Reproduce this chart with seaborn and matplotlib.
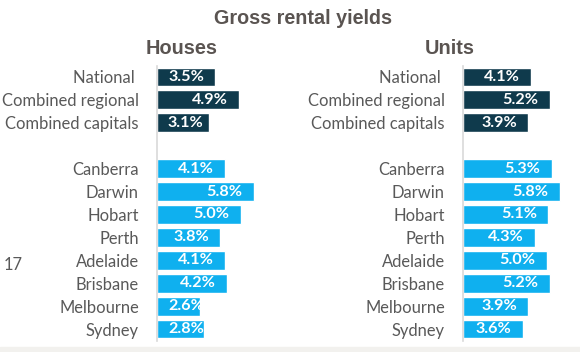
import pandas as pd
import numpy as np
import matplotlib
matplotlib.use("Agg")
import matplotlib.pyplot as plt
import seaborn as sns

# -----------------------------
# Data
# -----------------------------
regions = ["National ", "Combined regional", "Combined capitals", " ",
           "Canberra", "Darwin", "Hobart", "Perth", "Adelaide",
           "Brisbane", "Melbourne", "Sydney"]
groups = ["summary", "summary", "summary", None,
          "city", "city", "city", "city", "city", "city", "city", "city"]
houses = [3.5, 4.9, 3.1, np.nan, 4.1, 5.8, 5.0, 3.8, 4.1, 4.2, 2.6, 2.8]
units = [4.1, 5.2, 3.9, np.nan, 5.3, 5.8, 5.1, 4.3, 5.0, 5.2, 3.9, 3.6]

palette = {"summary": "#0f3a4c", "city": "#0fb0ef"}
text_grey = "#595959"
title_grey = "#5a5451"

sns.set_style("white")
plt.rcParams["font.family"] = ["Lato", "DejaVu Sans"]

W, H = 580, 352
fig = plt.figure(figsize=(W / 100, H / 100), dpi=100)

px_per_pct = 16.7
ax_w = 112


def panel(left_px, values, title, title_x):
    df = pd.DataFrame({"region": regions, "group": groups, "value": values})
    df = df.dropna()
    ax = fig.add_axes([left_px / W, 1 - 340.5 / H, ax_w / W, 275 / H])
    sns.barplot(data=df, x="value", y="region", hue="group", order=regions,
                palette=palette, dodge=False, legend=False, width=0.82,
                saturation=1, orient="h", ax=ax)
    ax.set_xlim(0, ax_w / px_per_pct)
    ax.set_ylim(11.5, -0.5)
    ax.set_xlabel("")
    ax.set_ylabel("")
    ax.set_xticks([])
    for s in ["top", "right", "bottom"]:
        ax.spines[s].set_visible(False)
    ax.spines["left"].set_color("#d9d9d9")
    ax.spines["left"].set_linewidth(1.2)
    ax.tick_params(axis="y", length=0, pad=13, labelsize=11.9,
                   labelcolor=text_grey)
    # value labels, inside end
    for i, v in enumerate(values):
        if np.isnan(v):
            continue
        ax.text(max(v - 0.68, 2.8), i, f"{v:.1f}%", ha="right", va="center",
                color="white", fontsize=11.6, fontweight="bold")
    fig.text(title_x / W, 1 - 48 / H, title, ha="center", va="center",
             fontsize=14.3, fontweight="bold", color=title_grey,
             family=["Liberation Sans", "DejaVu Sans"])
    return ax


panel(157, houses, "Houses", 182)
panel(463, units, "Units", 450)

fig.text(303 / W, 1 - 18 / H, "Gross rental yields", ha="center", va="center",
         fontsize=14.2, fontweight="bold", color=title_grey,
         family=["Liberation Sans", "DejaVu Sans"])
fig.text(4 / W, 1 - 265 / H, "17", ha="left", va="center", fontsize=11.9,
         color=text_grey)

# light strip along bottom edge
fig.patches.append(plt.Rectangle((0, 0), 1, 5 / H, transform=fig.transFigure,
                                 color="#f2f1ee", zorder=0))

fig.savefig("out.png", dpi=100)
